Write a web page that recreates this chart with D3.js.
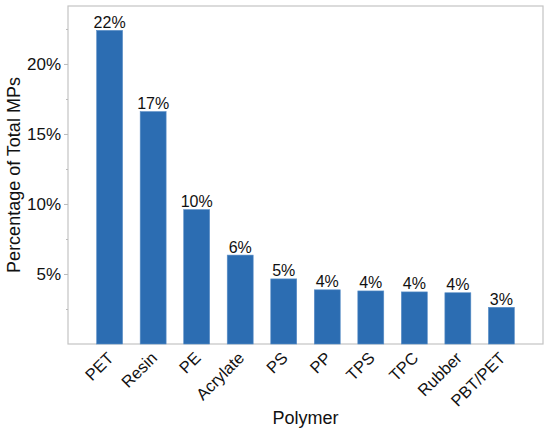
<!DOCTYPE html>
<html><head><meta charset="utf-8">
<script src="https://cdn.jsdelivr.net/npm/d3@7"></script>
<style>body{margin:0;background:#fff}svg{display:block}text{font-family:"Liberation Sans",Arial,Helvetica,sans-serif}</style>
</head><body>
<svg id="chart" width="550" height="433"></svg>
<script>
const categories = ["PET","Resin","PE","Acrylate","PS","PP","TPS","TPC","Rubber","PBT/PET"];
const values = [22.4, 16.6, 9.6, 6.35, 4.65, 3.87, 3.79, 3.72, 3.66, 2.62];
const valueLabels = ["22%","17%","10%","6%","5%","4%","4%","4%","4%","3%"];
const majorTicks = [5, 10, 15, 20];
const minorTicks = [2.5, 7.5, 12.5, 17.5, 22.5];
const yTickLabels = ["5%","10%","15%","20%"];

const svg = d3.select("#chart");
const mLeft = 68, mRight = 543, mTop = 6, mBottom = 344;
const x = d3.scaleBand().domain(categories).range([mLeft, mRight]).paddingInner(0.404).paddingOuter(0.658);
const y = d3.scaleLinear().domain([0, 24.14]).range([mBottom, mTop]);

// frame
svg.append("rect").attr("x", mLeft).attr("y", mTop).attr("width", mRight-mLeft).attr("height", mBottom-mTop)
  .attr("fill", "none").attr("stroke", "#c4c4c4").attr("stroke-width", 1.2);

// bars
svg.selectAll("rect.bar").data(values).enter().append("rect").attr("class","bar")
  .attr("x", (d,i) => x(categories[i])).attr("width", x.bandwidth())
  .attr("y", d => y(d)).attr("height", d => mBottom - y(d))
  .attr("fill", "#2c6db2").attr("stroke", "#5b8fc7").attr("stroke-width", 0.6);

// value labels
svg.selectAll("text.vl").data(values).enter().append("text").attr("class","vl")
  .attr("x", (d,i) => x(categories[i]) + x.bandwidth()/2).attr("y", d => y(d) - 2.5)
  .attr("text-anchor","middle").attr("font-size", 16).attr("fill","#111")
  .text((d,i) => valueLabels[i]);

// y axis
const yAxis = d3.axisLeft(y).tickValues(majorTicks).tickSize(4).tickPadding(3)
  .tickFormat((d,i) => yTickLabels[i]);
const gy = svg.append("g").attr("transform", `translate(${mLeft},0)`).call(yAxis);
gy.select(".domain").remove();
gy.selectAll(".tick line").attr("stroke", "#bbb");
gy.selectAll(".tick text").attr("font-size", 17).attr("fill", "#111")
  .style("font-family", '"Liberation Sans",Arial,sans-serif');
const yMinor = d3.axisLeft(y).tickValues(minorTicks).tickSize(2).tickFormat("");
const gym = svg.append("g").attr("transform", `translate(${mLeft},0)`).call(yMinor);
gym.select(".domain").remove();
gym.selectAll(".tick line").attr("stroke", "#bbb");

// x axis
const xAxis = d3.axisBottom(x).tickSize(0).tickPadding(0);
const gx = svg.append("g").attr("transform", `translate(0,${mBottom})`).call(xAxis);
gx.select(".domain").remove();
gx.selectAll(".tick text")
  .attr("font-size", 16.5).attr("fill", "#111")
  .style("font-family", '"Liberation Sans",Arial,sans-serif')
  .attr("text-anchor", "end").attr("dy", null).attr("y", 0)
  .attr("transform", "translate(5,15) rotate(-45)");

// axis titles
svg.append("text").attr("x", (mLeft+mRight)/2).attr("y", 424).attr("text-anchor","middle")
  .attr("font-size", 18).attr("fill","#111").text("Polymer");
svg.append("text").attr("transform", `translate(20,${(mTop+mBottom)/2}) rotate(-90)`)
  .attr("text-anchor","middle").attr("font-size", 18).attr("fill","#111")
  .text("Percentage of Total MPs");
</script>
</body></html>
